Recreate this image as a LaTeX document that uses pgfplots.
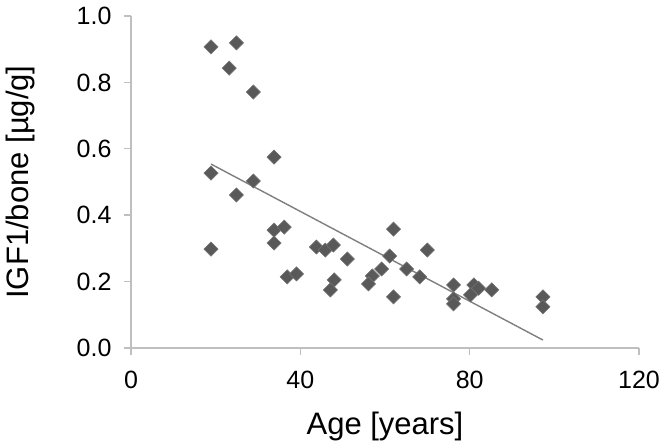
\documentclass[border=0pt]{standalone}
\usepackage{fontspec}
\setmainfont{Liberation Sans}
\usepackage{pgfplots}
\pgfplotsset{compat=1.18}
\definecolor{axisgray}{HTML}{BFBFBF}
\definecolor{markgray}{HTML}{595959}
\definecolor{fitgray}{HTML}{7F7F7F}

\begin{document}
\begin{tikzpicture}
\begin{axis}[
    width=508pt, height=332pt,
    scale only axis,
    xmin=0, xmax=120, ymin=0, ymax=1.0,
    xtick={0,40,80,120},
    ytick={0,0.2,...,1.0},
    /pgf/number format/assume math mode=true,
    axis x line*=bottom, axis y line*=left,
    axis line style={axisgray, line width=1.4pt, -},
    tick style={axisgray, line width=1.4pt},
    tick align=outside,
    major tick length=7pt,
    ticklabel style={font=\fontsize{25}{29}\selectfont},
    xticklabel style={yshift=-13pt},
    yticklabel style={xshift=-9pt, /pgf/number format/.cd, fixed, fixed zerofill, precision=1},
    label style={font=\fontsize{31}{36}\selectfont},
    xlabel={Age [years]},
    ylabel={IGF1/bone [µg/g]},
    xlabel style={at={([yshift=-87pt]axis description cs:0.5,0)}, anchor=base},
    ylabel style={at={([xshift=-111pt]axis description cs:0,0.5)}, anchor=center},
    clip=false,
]
\path ([xshift=-131pt,yshift=-98pt]rel axis cs:0,0) rectangle ([xshift=27pt,yshift=16pt]rel axis cs:1,1);
\addplot[fitgray, line width=1.4pt] coordinates {(18.9,0.554) (97.3,0.024)};
\addplot[only marks, mark=square*, mark size=5pt,
    mark options={rotate=45, fill=markgray, draw=markgray!85!white, line width=0.6pt}]
coordinates {
    (18.9,0.907) (23.2,0.843) (24.9,0.919) (28.9,0.771) (33.8,0.575)
    (18.9,0.527) (24.9,0.461) (28.9,0.503) (33.8,0.355) (33.8,0.316)
    (36.2,0.364) (18.9,0.298) (36.9,0.214) (39.1,0.223) (43.8,0.304)
    (45.9,0.295) (47.8,0.310) (51.1,0.268) (48.0,0.205) (47.1,0.175)
    (62.0,0.358) (61.1,0.277) (70.0,0.295) (59.2,0.238) (57.0,0.217)
    (56.1,0.193) (62.0,0.154) (65.1,0.238) (68.2,0.214) (76.2,0.190)
    (76.2,0.148) (76.2,0.133) (81.0,0.190) (82.1,0.180) (80.2,0.160)
    (85.2,0.175) (97.3,0.154) (97.3,0.124)
};
\end{axis}
\end{tikzpicture}
\end{document}
